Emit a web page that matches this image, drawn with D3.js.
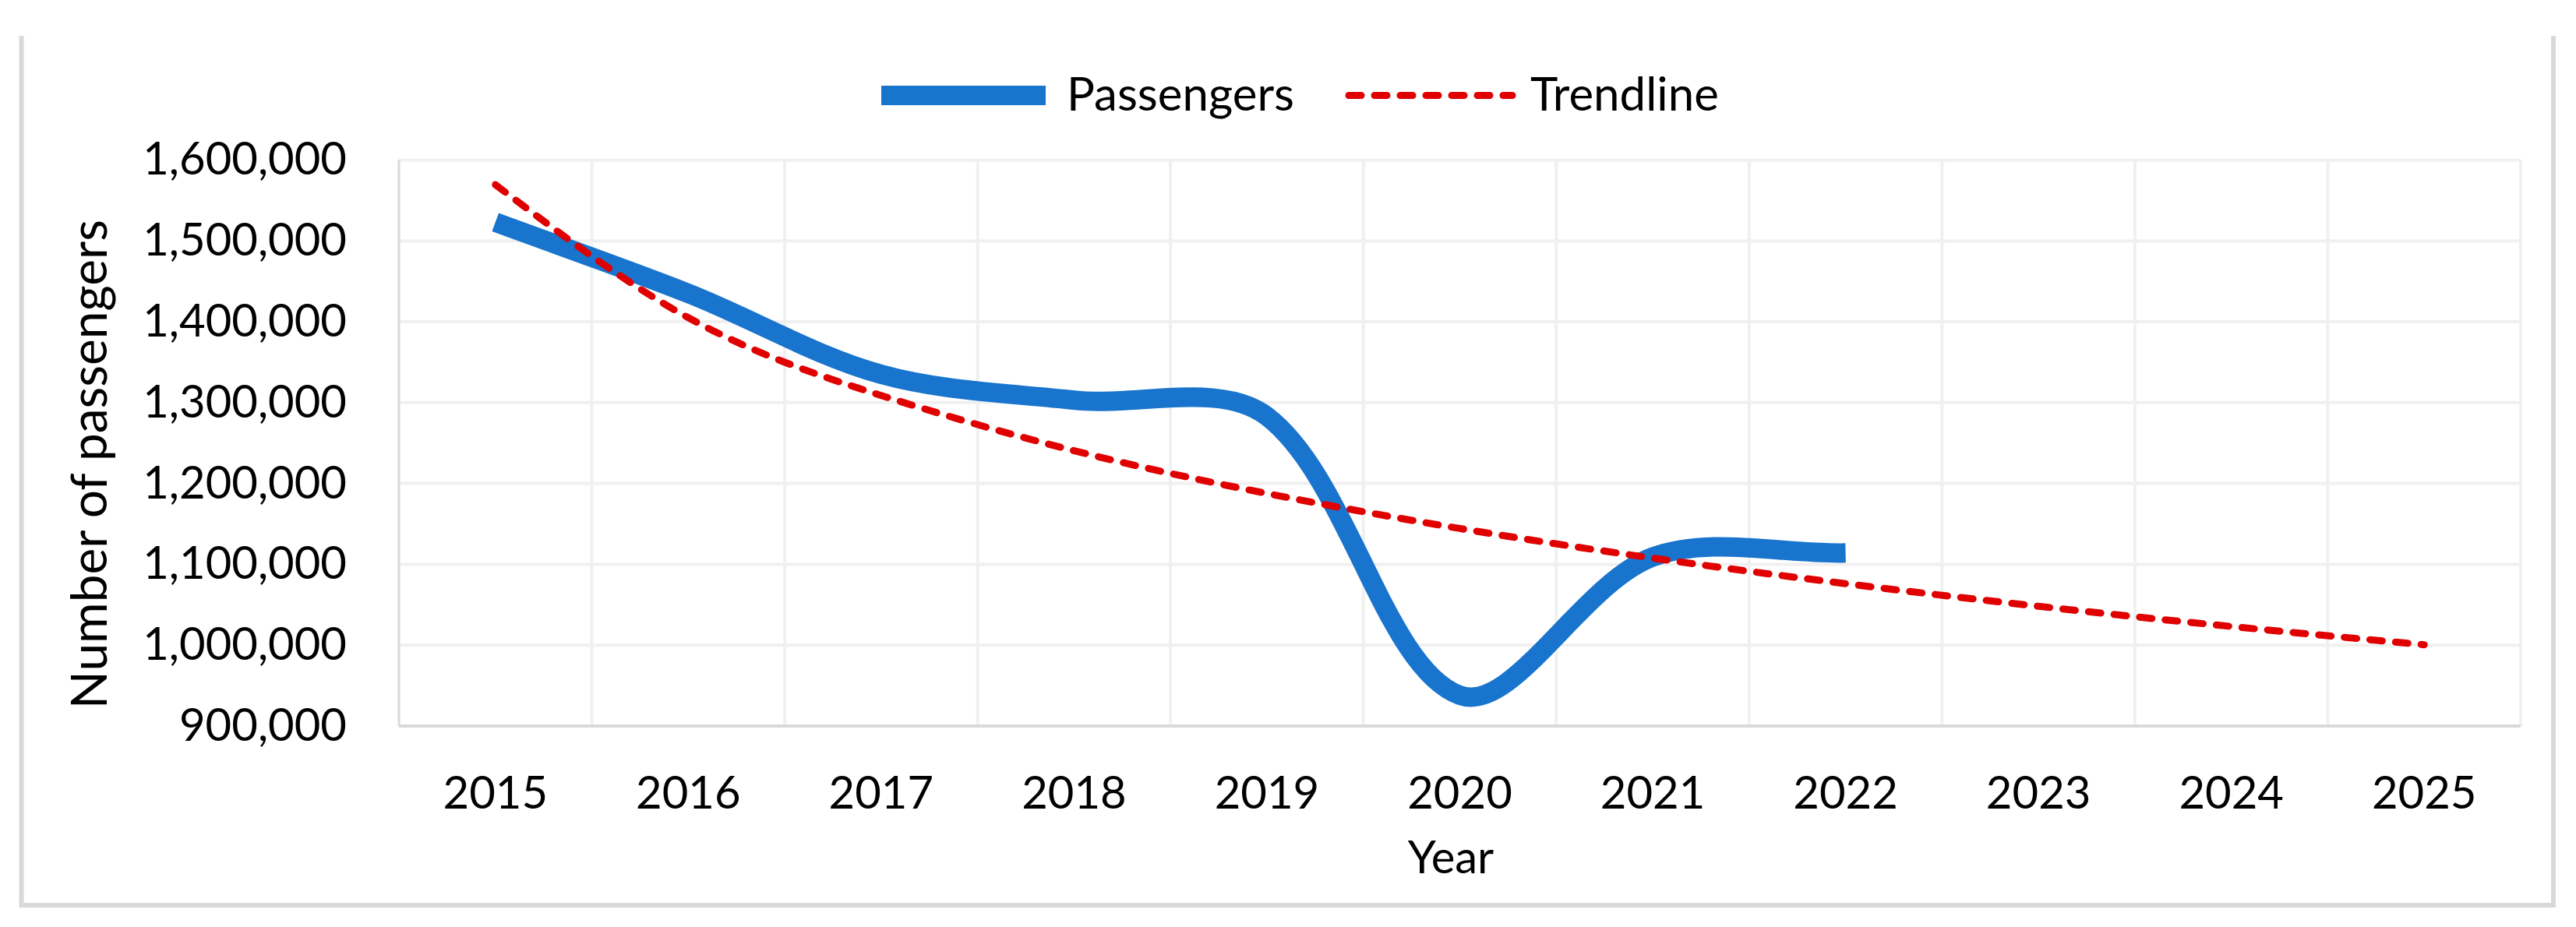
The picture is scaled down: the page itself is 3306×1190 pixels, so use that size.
<!DOCTYPE html>
<html>
<head>
<meta charset="utf-8">
<script src="https://cdn.jsdelivr.net/npm/d3@7"></script>
<style>
  body { margin: 0; background: #fff; }
  text { font-family: Lato, "Open Sans", sans-serif; fill: #000; }
</style>
</head>
<body>
<svg id="chart" width="3306" height="1190"></svg>
<script>
var years = ["2015", "2016", "2017", "2018", "2019", "2020", "2021", "2022", "2023", "2024", "2025"];
var passengerYears = ["2015", "2016", "2017", "2018", "2019", "2020", "2021", "2022"];
var passengers = [1523000, 1435000, 1335000, 1303000, 1283000, 938000, 1109000, 1114000];
var trendline = [1569500, 1405000, 1308800, 1240500, 1187600, 1144300, 1107700, 1076100, 1048100, 1023100, 1000500];
var yTicks = [900000, 1000000, 1100000, 1200000, 1300000, 1400000, 1500000, 1600000];

var svg = d3.select("#chart");
var plotLeft = 512, plotRight = 3235, plotTop = 205.4, plotBottom = 932;

var x = d3.scaleBand().domain(years).range([plotLeft, plotRight]);
var y = d3.scaleLinear().domain([900000, 1600000]).range([plotBottom, plotTop]);
function cx(d) { return x(d) + x.bandwidth() / 2; }

// outer frame (top edge is cut off in the original)
svg.append("path")
    .attr("d", "M27.5,46V1162H3277V46")
    .attr("fill", "none")
    .attr("stroke", "#d9d9d9")
    .attr("stroke-width", 6);

// gridlines
svg.append("g").selectAll("line")
    .data(yTicks.slice(1))
    .enter().append("line")
    .attr("x1", plotLeft).attr("x2", plotRight)
    .attr("y1", d => y(d)).attr("y2", d => y(d))
    .attr("stroke", "#f0f0f0").attr("stroke-width", 4);

svg.append("g").selectAll("line")
    .data(years.slice(1).map(d => x(d)).concat([plotRight]))
    .enter().append("line")
    .attr("x1", d => d).attr("x2", d => d)
    .attr("y1", plotTop).attr("y2", plotBottom)
    .attr("stroke", "#f0f0f0").attr("stroke-width", 4);

// axis lines
svg.append("line")
    .attr("x1", plotLeft).attr("x2", plotLeft).attr("y1", plotTop).attr("y2", plotBottom)
    .attr("stroke", "#d9d9d9").attr("stroke-width", 3);
svg.append("line")
    .attr("x1", plotLeft).attr("x2", plotRight).attr("y1", plotBottom).attr("y2", plotBottom)
    .attr("stroke", "#d9d9d9").attr("stroke-width", 4);

// y axis labels
var yAxis = svg.append("g")
    .attr("transform", "translate(" + plotLeft + ",0)")
    .call(d3.axisLeft(y).tickValues(yTicks).tickFormat(d3.format(",")).tickSize(0).tickPadding(67));
yAxis.select(".domain").remove();
yAxis.selectAll("text").style("font-size", "58px").style("font-family", "Lato, sans-serif");

// x axis labels
var xAxis = svg.append("g")
    .attr("transform", "translate(0," + plotBottom + ")")
    .call(d3.axisBottom(x).tickSize(0).tickPadding(65));
xAxis.select(".domain").remove();
xAxis.selectAll("text").style("font-size", "58px").style("font-family", "Lato, sans-serif");

// axis titles
svg.append("text")
    .attr("transform", "translate(137,596) rotate(-90)")
    .attr("text-anchor", "middle")
    .style("font-size", "64px")
    .text("Number of passengers");
svg.append("text")
    .attr("x", 1862).attr("y", 1121)
    .attr("text-anchor", "middle")
    .style("font-size", "58px")
    .text("Year");

// excel-like smoothed line: bezier with tangents scaled by segment lengths
function smoothPath(pts) {
    var p = d3.path();
    function dist(a, b) { return Math.hypot(b[0] - a[0], b[1] - a[1]); }
    p.moveTo(pts[0][0], pts[0][1]);
    for (var i = 0; i < pts.length - 1; i++) {
        var p0 = pts[Math.max(i - 1, 0)], p1 = pts[i], p2 = pts[i + 1], p3 = pts[Math.min(i + 2, pts.length - 1)];
        var d01 = dist(p0, p1), d12 = dist(p1, p2), d23 = dist(p2, p3);
        var f1 = d12 / (d01 + d12) / 3, f2 = d12 / (d12 + d23) / 3;
        p.bezierCurveTo(
            p1[0] + (p2[0] - p0[0]) * f1, p1[1] + (p2[1] - p0[1]) * f1,
            p2[0] - (p3[0] - p1[0]) * f2, p2[1] - (p3[1] - p1[1]) * f2,
            p2[0], p2[1]);
    }
    return p.toString();
}

var passengerPts = passengerYears.map((d, i) => [cx(d), y(passengers[i])]);
svg.append("path")
    .attr("d", smoothPath(passengerPts))
    .attr("fill", "none")
    .attr("stroke", "#1874cd")
    .attr("stroke-width", 25);

var trendLine = d3.line()
    .x((d, i) => cx(years[i]))
    .y(d => y(d))
    .curve(d3.curveNatural);
svg.append("path")
    .attr("d", trendLine(trendline))
    .attr("fill", "none")
    .attr("stroke", "#e00000")
    .attr("stroke-width", 9)
    .attr("stroke-linecap", "round")
    .attr("stroke-dasharray", "16,17");

// legend
svg.append("line")
    .attr("x1", 1131).attr("x2", 1342).attr("y1", 122.5).attr("y2", 122.5)
    .attr("stroke", "#1874cd").attr("stroke-width", 25);
svg.append("text").attr("x", 1369).attr("y", 142).style("font-size", "60px").text("Passengers");
svg.append("line")
    .attr("x1", 1731).attr("x2", 1941).attr("y1", 122.5).attr("y2", 122.5)
    .attr("stroke", "#e00000").attr("stroke-width", 9)
    .attr("stroke-linecap", "round").attr("stroke-dasharray", "16,17");
svg.append("text").attr("x", 1964).attr("y", 142).style("font-size", "60px").text("Trendline");
</script>
</body>
</html>
